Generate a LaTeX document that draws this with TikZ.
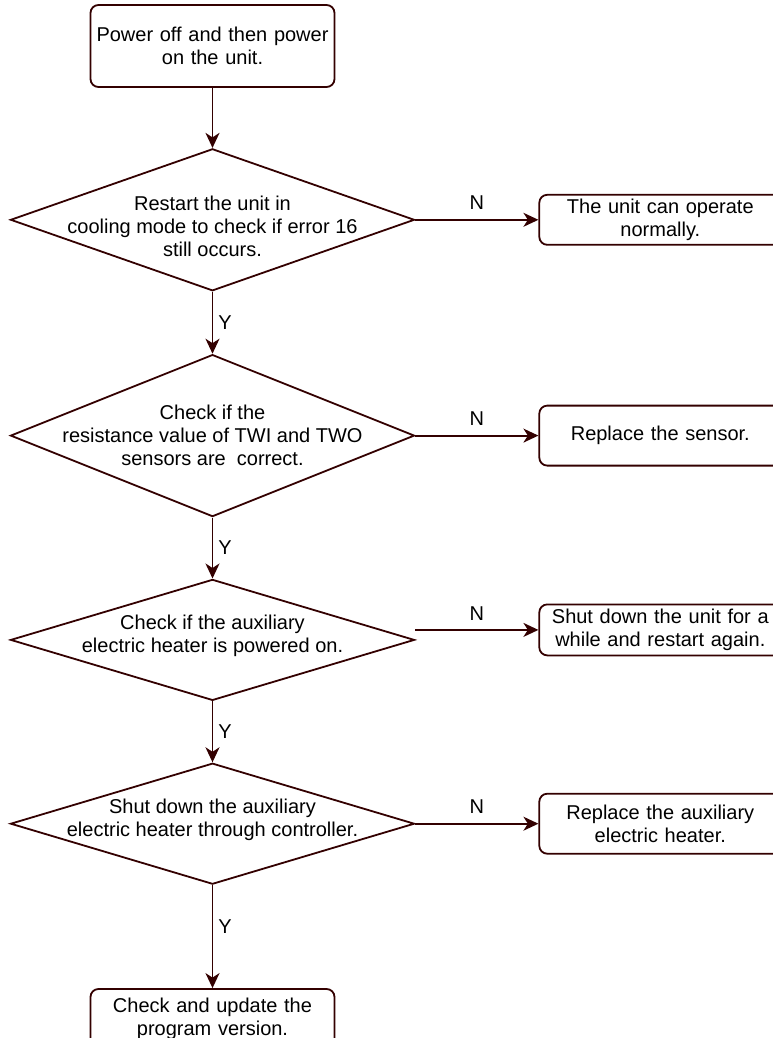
\documentclass[tikz,border=0pt]{standalone}
\usepackage{fontspec}
\setmainfont{Liberation Sans}
\usetikzlibrary{arrows.meta,positioning,shapes.geometric}
\definecolor{edge}{HTML}{330000}

\begin{document}
\begin{tikzpicture}[
x=1pt, y=-1pt,
font=\fontsize{20}{23}\selectfont,
box/.style={draw=edge, line width=1.8pt, rounded corners=8pt, fill=white, minimum width=244pt, minimum height=82pt, text width=236pt, align=center, inner sep=0pt},
side/.style={draw=edge, line width=1.8pt, rounded corners=8pt, fill=white, minimum width=242pt, text width=236pt, align=center, inner sep=0pt},
dia/.style={diamond, draw=edge, line width=1.8pt, fill=white, minimum width=404pt, inner sep=0pt},
dtext/.style={align=center, inner sep=0pt},
lab/.style={inner sep=0pt},
arrow/.style={-{Stealth[length=15pt, width=14pt, inset=4.5pt]}, line width=1.8pt, draw=edge}
]
\useasboundingbox (0,0) rectangle (772,1038);
\node[box] (start) at (212.5,46) {Power off and then power\\on the unit.};
\node[dia, minimum height=142pt, below=60pt of start] (d1) {};
\node[dia, minimum height=162pt, below=62pt of d1] (d2) {};
\node[dia, minimum height=121pt, below=61pt of d2] (d3) {};
\node[dia, minimum height=121pt, below=61pt of d3] (d4) {};
\node[box, minimum height=60pt, below=103pt of d4] (upd) {Check and update the\\program version.};
\node[dtext, yshift=-7pt] (t1) at (d1) {Restart the unit in\\cooling mode to check if error 16\\still occurs.};
\node[dtext] (t2) at (d2) {Check if the\\resistance value of TWI and TWO\\sensors are \ correct.};
\node[dtext, yshift=4pt] (t3) at (d3) {Check if the auxiliary\\electric heater is powered on.};
\node[dtext, yshift=4pt] (t4) at (d4) {Shut down the auxiliary\\electric heater through controller.};
\node[side, minimum height=50pt, right=123pt of d1] (ok) {The unit can operate\\normally.};
\node[side, minimum height=60pt, right=123pt of d2] (sensor) {Replace the sensor.};
\node[side, minimum height=51pt, right=123pt of d3, yshift=10pt] (restart) {Shut down the unit for a\\while and restart again.};
\node[side, minimum height=60pt, right=123pt of d4] (heater) {Replace the auxiliary\\electric heater.};
% main line
\draw[arrow] (start) -- (d1);
\draw[arrow] (d1) -- node[lab, right=5pt] {Y} (d2);
\draw[arrow] (d2) -- node[lab, right=5pt] {Y} (d3);
\draw[arrow] (d3) -- node[lab, right=5pt] {Y} (d4);
\draw[arrow] (d4) -- node[lab, right=5pt, pos=0.4] {Y} (upd);
% no branches
\draw[arrow] (d1) -- node[lab, above=9pt] {N} (ok);
\draw[arrow] (d2) -- node[lab, above=9pt] {N} (sensor);
\draw[arrow] (d3.east |- restart) -- node[lab, above=9pt] {N} (restart);
\draw[arrow] (d4) -- node[lab, above=9pt] {N} (heater);
\end{tikzpicture}
\end{document}
